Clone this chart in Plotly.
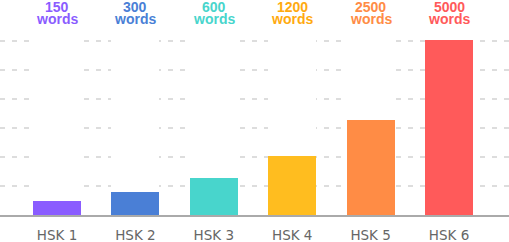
import plotly.graph_objects as go

categories = ["HSK 1", "HSK 2", "HSK 3", "HSK 4", "HSK 5", "HSK 6"]
bar_values = [0.48, 0.79, 1.28, 2.03, 3.28, 6.03]
word_counts = ["150", "300", "600", "1200", "2500", "5000"]
word_unit = "words"
colors = ["#8a5cff", "#4a7fd6", "#48d5cc", "#ffbd1f", "#ff8c45", "#ff5a5a"]
label_colors = ["#8a5cff", "#4a7fd6", "#48d5cc", "#ffaa0f", "#ff8c45", "#ff5a5a"]

y_max = 6.45
bar_width = 0.612

fig = go.Figure()
# white backing columns that hide the gridlines inside each column
fig.add_trace(go.Bar(x=categories, y=[y_max] * len(categories), width=bar_width,
                     marker=dict(color="white", line=dict(width=0)),
                     hoverinfo="skip", showlegend=False))
fig.add_trace(go.Bar(x=categories, y=bar_values, width=bar_width,
                     marker=dict(color=colors, line=dict(width=0)),
                     showlegend=False))

annotations = []
for cat, wc, col in zip(categories, word_counts, label_colors):
    annotations.append(dict(x=cat, xref="x", y=1, yref="paper", text="<b>%s</b>" % wc,
                            showarrow=False, yanchor="middle", yshift=21.5,
                            font=dict(family="Liberation Sans, Arial", size=14, color=col)))
    annotations.append(dict(x=cat, xref="x", y=1, yref="paper", text="<b>%s</b>" % word_unit,
                            showarrow=False, yanchor="middle", yshift=9.5,
                            font=dict(family="Liberation Sans, Arial", size=14, color=col)))

fig.update_layout(
    width=509, height=242,
    margin=dict(l=0, r=0, t=28, b=27, autoexpand=False),
    paper_bgcolor="white", plot_bgcolor="white",
    barmode="overlay", bargap=0,
    annotations=annotations,
    xaxis=dict(range=[-0.727, 5.765], showgrid=False, showline=True, linecolor="#aaaaaa",
               linewidth=1.5, ticks="", tickfont=dict(family="DejaVu Sans", size=13.5, color="#666666"),
               ticklabelstandoff=7, automargin=False, fixedrange=True),
    yaxis=dict(range=[0, y_max], dtick=1, showgrid=True, gridcolor="#dddddd", gridwidth=2,
               griddash="5px,7px", zeroline=False, showticklabels=False, automargin=False,
               fixedrange=True),
)

fig.write_html("out.html")
